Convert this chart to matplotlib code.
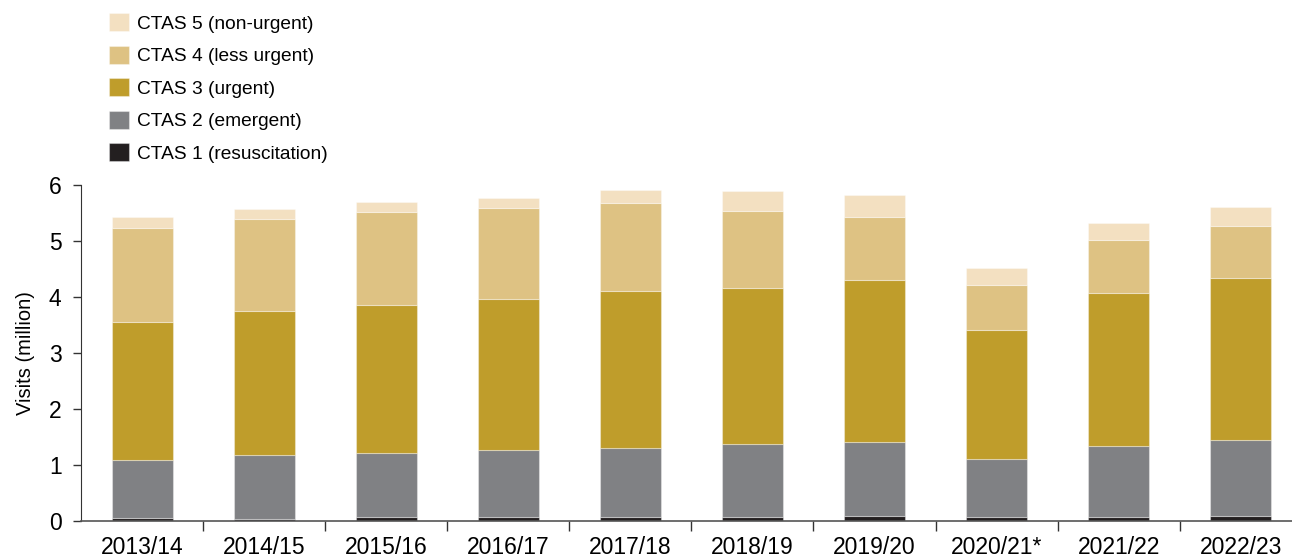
import matplotlib
matplotlib.use("Agg")
import matplotlib.pyplot as plt
from matplotlib.ticker import FixedLocator
import numpy as np

years = ["2013/14", "2014/15", "2015/16", "2016/17", "2017/18",
         "2018/19", "2019/20", "2020/21*", "2021/22", "2022/23"]

# visits in million, per triage level
ctas1 = [0.04, 0.03, 0.07, 0.07, 0.06, 0.06, 0.08, 0.07, 0.07, 0.08]
ctas2 = [1.05, 1.14, 1.14, 1.19, 1.24, 1.31, 1.33, 1.03, 1.27, 1.37]
ctas3 = [2.47, 2.58, 2.65, 2.71, 2.80, 2.79, 2.90, 2.31, 2.73, 2.88]
ctas4 = [1.68, 1.65, 1.66, 1.62, 1.58, 1.38, 1.12, 0.80, 0.95, 0.94]
ctas5 = [0.18, 0.17, 0.18, 0.18, 0.23, 0.35, 0.40, 0.31, 0.31, 0.34]

series = [
    ("CTAS 1 (resuscitation)", ctas1, "#231f20"),
    ("CTAS 2 (emergent)", ctas2, "#808184"),
    ("CTAS 3 (urgent)", ctas3, "#bf9d2b"),
    ("CTAS 4 (less urgent)", ctas4, "#dec283"),
    ("CTAS 5 (non-urgent)", ctas5, "#f3e0c1"),
]

plt.rcParams["font.family"] = ["Liberation Sans", "DejaVu Sans"]

fig = plt.figure(figsize=(12.92, 5.59), dpi=100)
ax = fig.add_axes([0.0627, 0.0685, 0.9373, 0.6005])

x = np.arange(len(years))
bottom = np.zeros(len(years))
handles = []
for label, vals, color in series:
    b = ax.bar(x, vals, 0.5, bottom=bottom, color=color, label=label,
               edgecolor=(1, 1, 1, 0.35), linewidth=0.8)
    handles.append(b)
    bottom = bottom + np.array(vals)

ax.set_xlim(-0.5, 9.42)
ax.set_ylim(0, 6)
ax.set_yticks(range(7))
ax.set_ylabel("Visits (million)", fontsize=14.5, labelpad=10)

ax.set_xticks(x)
ax.set_xticklabels(years)
ax.xaxis.set_minor_locator(FixedLocator(np.arange(0.5, 9, 1)))
ax.tick_params(axis="x", which="major", length=0, labelsize=16.5, pad=11)
ax.tick_params(axis="x", which="minor", length=7, width=1, direction="out", color="#333333")
ax.tick_params(axis="y", length=6, width=1, labelsize=16.5, pad=8, color="#333333")

for s in ["top", "right"]:
    ax.spines[s].set_visible(False)
ax.spines["left"].set_color("#333333")
ax.spines["bottom"].set_color("#555555")
ax.spines["bottom"].set_linewidth(1.2)

fig.legend(handles[::-1], [s[0] for s in series][::-1], loc="upper left",
           bbox_to_anchor=(0.074, 1.0), frameon=False, fontsize=13.8,
           handlelength=1.05, handleheight=1.05, handletextpad=0.4,
           labelspacing=0.68, borderaxespad=0.3)

fig.savefig("out.png", dpi=100)
